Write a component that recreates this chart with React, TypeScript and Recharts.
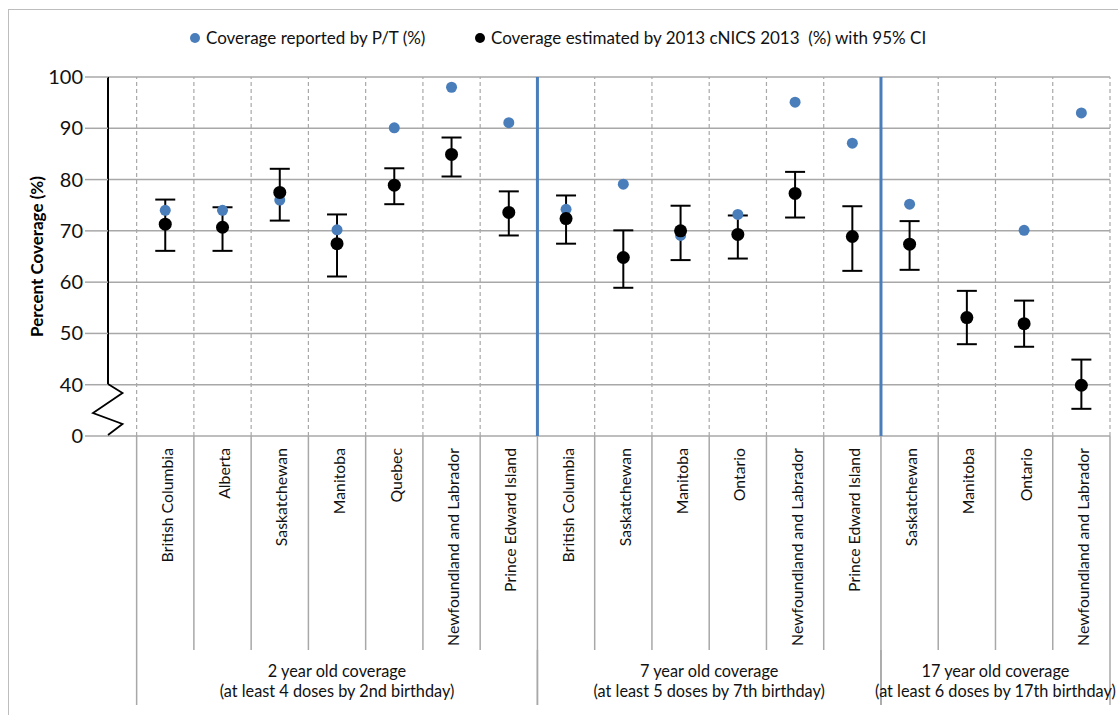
import React from "react";
import {
  ComposedChart,
  Scatter,
  ErrorBar,
  XAxis,
  YAxis,
  CartesianGrid,
  ReferenceLine,
} from "recharts";

// provinces per group, in display order
const provinces = [
  "British Columbia",
  "Alberta",
  "Saskatchewan",
  "Manitoba",
  "Quebec",
  "Newfoundland and Labrador",
  "Prince Edward Island",
  "British Columbia",
  "Saskatchewan",
  "Manitoba",
  "Ontario",
  "Newfoundland and Labrador",
  "Prince Edward Island",
  "Saskatchewan",
  "Manitoba",
  "Ontario",
  "Newfoundland and Labrador",
];

const groupLabels = [
  ["2 year old coverage", "(at least 4 doses by 2nd birthday)"],
  ["7 year old coverage", "(at least 5 doses by 7th birthday)"],
  ["17 year old coverage", "(at least 6 doses by 17th birthday)"],
];
const groupSizes = [7, 6, 4];

// coverage reported by P/T (%)
const reported = [74, 74, 76, 70.2, 90.1, 98, 91.1, 74.2, 79.1, 69.1, 73.2, 95.1, 87.1, 75.2, null, 70.1, 93];
// coverage estimated by cNICS 2013 (%)
const estimated = [71.3, 70.7, 77.5, 67.5, 78.9, 84.9, 73.6, 72.4, 64.8, 70, 69.3, 77.3, 68.9, 67.4, 53.1, 51.9, 39.9];
const ciLow = [66.1, 66.1, 72, 61.1, 75.2, 80.6, 69.1, 67.5, 58.9, 64.3, 64.6, 72.6, 62.2, 62.4, 47.9, 47.4, 35.3];
const ciHigh = [76.1, 74.6, 82.1, 73.2, 82.2, 88.2, 77.7, 76.9, 70.1, 74.9, 73, 81.5, 74.8, 71.9, 58.3, 56.4, 44.9];

// y axis is broken: the bottom tick (30 on the scale) is labelled 0
const yTicks = [30, 40, 50, 60, 70, 80, 90, 100];

const W = 1118;
const H = 715;
const Y_AXIS_W = 108;
const RIGHT = 8;
const BAND = (W - Y_AXIS_W - RIGHT) / 17.5;
const CAT_H = 214;
const GRP_H = 65;

const BLUE = "#4a7ebb";
const GRID = "#a8a8a8";
const FONT = "Lato, 'Open Sans', sans-serif";

const data = provinces.map((name, i) => ({
  x: i + 0.5,
  name,
  reported: reported[i],
  estimated: estimated[i],
  err: [estimated[i] - ciLow[i], ciHigh[i] - estimated[i]],
}));

const boundaries = provinces.map((_, i) => i).concat([provinces.length]);
const groupCenters: number[] = [];
const groupStarts: number[] = [];
groupSizes.reduce((start, n) => {
  groupStarts.push(start);
  groupCenters.push(start + n / 2);
  return start + n;
}, 0);

function CategoryTick(props: any) {
  const { x, y, payload, index } = props;
  return (
    <g>
      {index === 0 && (
        <line x1={x - BAND / 2} x2={x - BAND / 2} y1={y} y2={y + CAT_H} stroke={GRID} strokeWidth={1.5} />
      )}
      <line x1={x + BAND / 2} x2={x + BAND / 2} y1={y} y2={y + CAT_H} stroke={GRID} strokeWidth={1.5} />
      <text
        transform={`translate(${x + 1},${y + 12}) rotate(-90)`}
        textAnchor="end"
        dominantBaseline="central"
        fontSize={15.8}
        fontFamily={FONT}
        fill="#111"
      >
        {provinces[Math.round(payload.value - 0.5)]}
      </text>
    </g>
  );
}

function GroupTick(props: any) {
  const { x, y, index } = props;
  const half = (groupSizes[index] / 2) * BAND;
  const [l1, l2] = groupLabels[index];
  return (
    <g>
      <line x1={x - half} x2={x - half} y1={y} y2={y + 55} stroke={GRID} strokeWidth={1.5} />
      <line x1={x + half} x2={x + half} y1={y} y2={y + 55} stroke={GRID} strokeWidth={1.5} />
      <text x={x} y={y + 27} textAnchor="middle" fontSize={16.3} fontFamily={FONT} fill="#111">
        {l1}
      </text>
      <text x={x} y={y + 47} textAnchor="middle" fontSize={16.3} fontFamily={FONT} fill="#111">
        {l2}
      </text>
    </g>
  );
}

function YTick(props: any) {
  const { x, y, payload } = props;
  const ax = Y_AXIS_W;
  return (
    <g>
      <text x={x} y={y} dy={7} textAnchor="end" fontSize={20} fontFamily={FONT} fill="#111">
        {payload.value === 30 ? "0" : payload.value}
      </text>
      {payload.value === 30 && (
        <polyline
          points={`${ax},${y - 52} ${ax + 14.5},${y - 43} ${ax - 15},${y - 23} ${ax + 14.5},${y - 12} ${ax},${y - 1}`}
          fill="none"
          stroke="#000"
          strokeWidth={1.8}
        />
      )}
    </g>
  );
}

function Dot(color: string, r: number, key: string) {
  return (p: any) =>
    p.payload[key] == null ? <g /> : <circle cx={p.cx} cy={p.cy} r={r} fill={color} />;
}

export default function App() {
  return (
    <div style={{ position: "absolute", left: 0, top: 0, width: W, height: H, background: "#fff" }}>
      <div
        style={{
          position: "absolute",
          left: 8,
          top: 9,
          width: W - 8,
          height: H - 9,
          borderLeft: "1.5px solid #bdbdbd",
          borderTop: "1.5px solid #bdbdbd",
        }}
      />
      <div
        style={{
          position: "absolute",
          left: 190,
          top: 27,
          fontFamily: FONT,
          fontSize: 17,
          color: "#111",
          whiteSpace: "pre",
          display: "flex",
          alignItems: "center",
        }}
      >
        <span style={{ display: "inline-block", width: 10, height: 10, borderRadius: 5, background: BLUE, marginRight: 6 }} />
        <span>Coverage reported by P/T (%)</span>
      </div>
      <div
        style={{
          position: "absolute",
          left: 475,
          top: 27,
          fontFamily: FONT,
          fontSize: 17,
          color: "#111",
          whiteSpace: "pre",
          display: "flex",
          alignItems: "center",
        }}
      >
        <span style={{ display: "inline-block", width: 10, height: 10, borderRadius: 5, background: "#000", marginRight: 6 }} />
        <span>Coverage estimated by 2013 cNICS 2013  (%) with 95% CI</span>
      </div>
      <div style={{ position: "absolute", left: 0, top: 0 }}>
        <ComposedChart
          width={W}
          height={H}
          data={data}
          margin={{ top: 77, right: RIGHT, bottom: 0, left: 0 }}
        >
          <CartesianGrid vertical={false} stroke={GRID} strokeWidth={1.5} />
          <XAxis
            dataKey="x"
            type="number"
            domain={[-0.5, provinces.length]}
            ticks={data.map((d) => d.x)}
            interval={0}
            height={CAT_H}
            tickSize={0}
            tickMargin={0}
            axisLine={false}
            tickLine={false}
            tick={<CategoryTick />}
            allowDataOverflow
          />
          <XAxis
            xAxisId="grp"
            dataKey="x"
            type="number"
            domain={[-0.5, provinces.length]}
            ticks={groupCenters}
            interval={0}
            height={GRP_H}
            tickSize={0}
            tickMargin={0}
            axisLine={false}
            tickLine={false}
            tick={<GroupTick />}
            allowDataOverflow
          />
          <YAxis
            type="number"
            domain={[30, 100]}
            ticks={yTicks}
            interval={0}
            width={Y_AXIS_W}
            tickSize={23}
            tickMargin={2}
            axisLine={false}
            tickLine={{ stroke: GRID, strokeWidth: 1.5 }}
            tick={<YTick />}
            allowDataOverflow
            label={{
              content: (p: any) => {
                const vb = p.viewBox;
                const cx = 36;
                const cy = vb.y + vb.height / 2;
                return (
                  <text
                    transform={`translate(${cx},${cy}) rotate(-90)`}
                    textAnchor="middle"
                    dominantBaseline="central"
                    fontSize={17}
                    fontWeight="bold"
                    fontFamily={FONT}
                    fill="#000"
                  >
                    Percent Coverage (%)
                  </text>
                );
              },
            }}
          />
          {boundaries.map((b) => (
            <ReferenceLine key={`b${b}`} x={b} stroke={GRID} strokeWidth={1.2} strokeDasharray="4 3" />
          ))}
          {groupStarts.slice(1).map((s) => (
            <ReferenceLine key={`g${s}`} x={s} stroke={BLUE} strokeWidth={3} />
          ))}
          <ReferenceLine
            segment={[
              { x: -0.5, y: 40 },
              { x: -0.5, y: 100 },
            ]}
            stroke="#000"
            strokeWidth={2}
            ifOverflow="visible"
          />
          <Scatter
            name="Coverage reported by P/T (%)"
            dataKey="reported"
            fill={BLUE}
            shape={Dot(BLUE, 5.5, "reported")}
            isAnimationActive={false}
          />
          <Scatter
            name="Coverage estimated by 2013 cNICS 2013 (%) with 95% CI"
            dataKey="estimated"
            fill="#000"
            shape={Dot("#000", 6.5, "estimated")}
            isAnimationActive={false}
          >
            <ErrorBar dataKey="err" direction="y" width={10} stroke="#000" strokeWidth={2} />
          </Scatter>
        </ComposedChart>
      </div>
    </div>
  );
}
